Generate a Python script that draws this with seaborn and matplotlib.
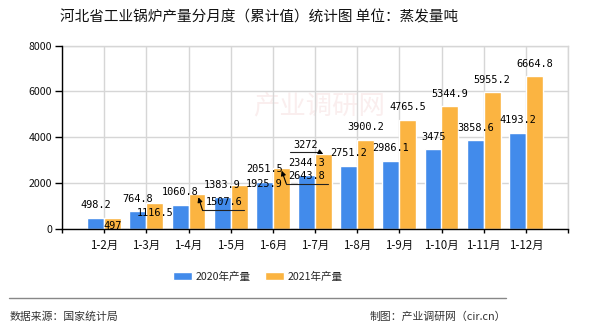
import matplotlib
matplotlib.use("Agg")
import matplotlib.pyplot as plt
import seaborn as sns
import pandas as pd

months = ["1-2月", "1-3月", "1-4月", "1-5月", "1-6月", "1-7月",
          "1-8月", "1-9月", "1-10月", "1-11月", "1-12月"]
vals_2020 = [498.2, 764.8, 1060.8, 1383.9, 2051.5, 2344.3,
             2751.2, 2986.1, 3475, 3858.6, 4193.2]
vals_2021 = [497, 1116.5, 1507.6, 1925.9, 2643.8, 3272,
             3900.2, 4765.5, 5344.9, 5955.2, 6664.8]
series_names = ["2020年产量", "2021年产量"]
yticks = [0, 2000, 4000, 6000, 8000]

title = "河北省工业锅炉产量分月度（累计值）统计图 单位：蒸发量吨"
source_txt = "数据来源：国家统计局"
credit_txt = "制图：产业调研网（cir.cn）"

df = pd.DataFrame({
    "month": months * 2,
    "value": vals_2020 + vals_2021,
    "series": [series_names[0]] * len(months) + [series_names[1]] * len(months),
})

sns.set_theme(style="white")
CJK = ["Noto Sans CJK SC", "DejaVu Sans"]
plt.rcParams["font.family"] = CJK
plt.rcParams["axes.unicode_minus"] = False

W, H = 590, 330
fig = plt.figure(figsize=(W / 100, H / 100), dpi=100)
ax = fig.add_axes([62 / W, (H - 229) / H, (568 - 62) / W, (229 - 45.5) / H])

blue, orange = "#428BEB", "#FBB441"
grid_c = "#d6d6d6"
sns.barplot(data=df, x="month", y="value", hue="series", palette=[blue, orange],
            width=0.8, saturation=1, ax=ax, legend=True, zorder=2)

ax.set_xlim(-1, 11)
ax.set_ylim(0, 8000)
ax.set_xticks(range(-1, 12))
ax.set_xticklabels([""] + months + [""], fontsize=8.3, color="#111111")
ax.set_yticks(yticks)
ax.set_yticklabels([str(v) for v in yticks], fontsize=7.6, color="#111111")
ax.set_xlabel("")
ax.set_ylabel("")
ax.grid(True, color=grid_c, lw=1)
ax.set_axisbelow(True)
for s in ["top", "right"]:
    ax.spines[s].set_visible(True)
    ax.spines[s].set_color(grid_c)
    ax.spines[s].set_linewidth(1)
    ax.spines[s].set_zorder(0.5)
for s in ["left", "bottom"]:
    ax.spines[s].set_color("black")
    ax.spines[s].set_linewidth(1)
ax.tick_params(axis="x", length=3, width=1, color="black", pad=4, bottom=True)
ax.tick_params(axis="y", length=5, width=1, color="black", pad=2, left=True)

# faint watermark
ax.text(0.54, 0.68, "产业调研网", transform=fig.transFigure, fontsize=19,
        color="#faeeee", ha="center", va="center", zorder=0)

# data labels
nudges = {(1, 0): (0, -8.5), (1, 1): (0, -9.3), (1, 2): (27, -8),
          (1, 3): (25, 1), (1, 4): (25, -7.6), (1, 5): (-18, 9)}
leaders = {(1, 2): [(47.5, -15.6), (5.5, -15.6), (1.5, -2.9)],
           (1, 4): [(46.4, -15.3), (5, -15.3), (0.4, -2.3)],
           (1, 5): [(-33, 1.9), (-4.2, 1.9), (-0.2, -0.1)]}
inv = ax.transAxes.inverted()
for ci, cont in enumerate(ax.containers):
    for j, bar in enumerate(cont):
        val = bar.get_height()
        cx = bar.get_x() + bar.get_width() / 2
        dx, dy = nudges.get((ci, j), (0, 12.5))
        txt = f"{val:g}"
        ax.annotate(txt, xy=(cx, val), xytext=(dx, dy), textcoords="offset pixels",
                    ha="center", va="center", fontsize=7.4, family="DejaVu Sans Mono",
                    color="black", zorder=5, annotation_clip=False)
        if (ci, j) in leaders:
            px, py = ax.transData.transform((cx, val))
            pts = [inv.transform((px + ox, py + oy)) for ox, oy in leaders[(ci, j)]]
            xs = [p[0] for p in pts[:-1]]
            ys = [p[1] for p in pts[:-1]]
            ax.plot(xs, ys, transform=ax.transAxes, color="#222222", lw=0.8,
                    clip_on=False, zorder=6)
            ax.annotate("", xy=pts[-1], xycoords="axes fraction",
                        xytext=pts[-2], textcoords="axes fraction",
                        arrowprops=dict(arrowstyle="-|>", color="black", lw=0.8,
                                        mutation_scale=7, shrinkA=0, shrinkB=0),
                        zorder=6, annotation_clip=False)

# legend
handles, labels = ax.get_legend_handles_labels()
ax.get_legend().remove()
fig.legend(handles, labels, loc="center", bbox_to_anchor=(258 / W, 1 - 277 / H),
           ncol=2, frameon=False, fontsize=7.6, handlelength=1.8, handleheight=0.8,
           handletextpad=0.3, columnspacing=1.4, borderaxespad=0)

# title and footer
fig.text(60 / W, 1 - 17 / H, title, fontsize=10.5, ha="left", va="center", color="#111111")
fig.add_artist(plt.Line2D([9 / W, 506 / W], [1 - 298 / H, 1 - 298 / H],
                          transform=fig.transFigure, color="#888888", lw=1))
fig.text(10 / W, 1 - 317 / H, source_txt, fontsize=7.8, ha="left", va="center", color="#333333")
fig.text(506 / W, 1 - 317 / H, credit_txt, fontsize=7.8, ha="right", va="center", color="#333333")

fig.savefig("out.png", dpi=100, facecolor="white")
